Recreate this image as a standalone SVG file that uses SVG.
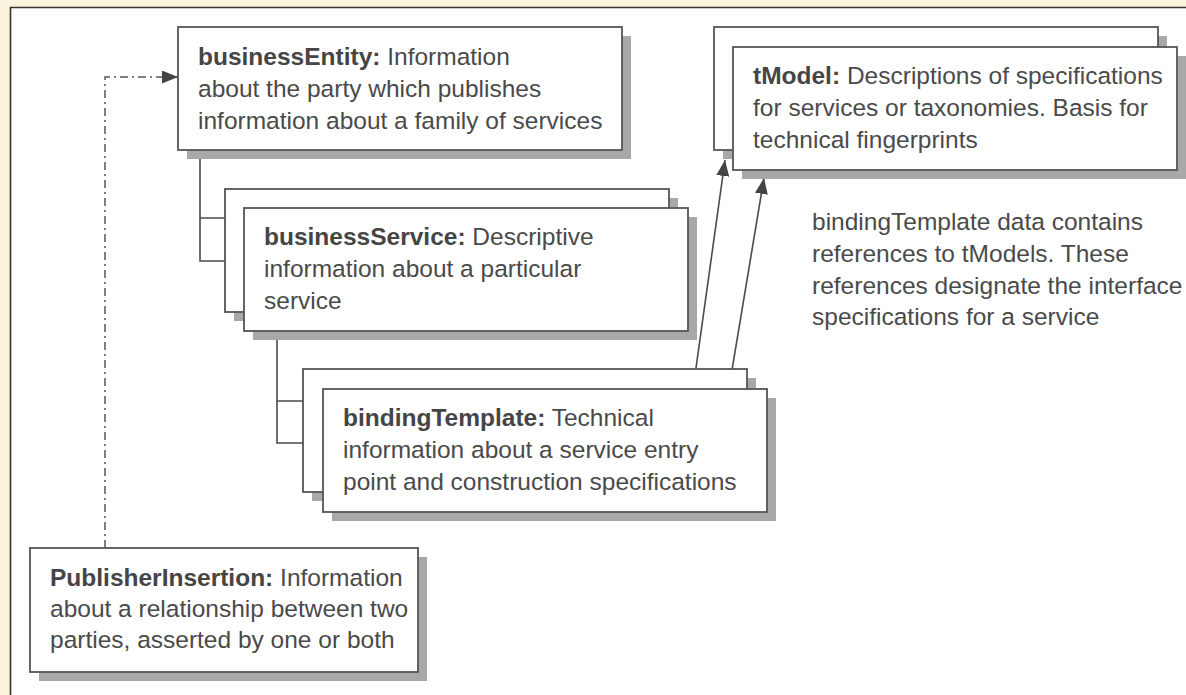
<svg xmlns="http://www.w3.org/2000/svg" width="1186" height="695" viewBox="0 0 1186 695">
<style>
.bg{fill:#fbf2dd}
.box{fill:#ffffff;stroke:#555;stroke-width:1.8}
.sh{fill:#a8a8aa}
.t{font-family:"Liberation Sans",Arial,sans-serif;font-size:24.5px;fill:#4a4a4a}
.b{font-weight:bold;fill:#454545}
.ln{fill:none;stroke:#4a4a4a;stroke-width:1.6}
.dd{fill:none;stroke:#555;stroke-width:1.5;stroke-dasharray:8 4 2 4}
</style>
<defs>
<marker id="ah" viewBox="0 0 16 13" refX="16" refY="6.5" markerWidth="16" markerHeight="13" markerUnits="userSpaceOnUse" orient="auto">
<path d="M0,0 L16,6.5 L0,13 Z" fill="#444"/>
</marker>
</defs>
<rect class="bg" x="0" y="0" width="1186" height="695"/>
<rect x="10.5" y="7.5" width="1180" height="700" fill="#fff"/>
<path d="M10.5,700 V7.5 H1190" fill="none" stroke="#333" stroke-width="1.6"/>

<g id="connectors">
<path class="ln" d="M200,150 V261 H244 M200,218 H225"/>
<path class="ln" d="M277,331 V443 H323 M277,401 H303"/>
<line class="ln" x1="696" y1="368" x2="725" y2="160" marker-end="url(#ah)"/>
<line class="ln" x1="729" y1="388" x2="764" y2="178" marker-end="url(#ah)"/>
<path class="dd" d="M105,548 V77 H168"/>
<line x1="162" y1="77" x2="178" y2="77" stroke="#444" stroke-width="1.5" marker-end="url(#ah)"/>
</g>

<g id="businessEntity">
<rect class="sh" x="187" y="36" width="444" height="123"/>
<rect class="box" x="178" y="27" width="444" height="123"/>
<text class="t" x="198" y="65"><tspan class="b">businessEntity:</tspan> Information</text>
<text class="t" x="198" y="97">about the party which publishes</text>
<text class="t" x="198" y="129">information about a family of services</text>
</g>

<g id="tModel">
<rect class="sh" x="723" y="36" width="444" height="123"/>
<rect class="box" x="714" y="27" width="444" height="123"/>
<rect class="sh" x="742" y="56" width="444" height="123"/>
<rect class="box" x="733" y="47" width="444" height="123"/>
<text class="t" x="753" y="84"><tspan class="b">tModel:</tspan> Descriptions of specifications</text>
<text class="t" x="753" y="116">for services or taxonomies. Basis for</text>
<text class="t" x="753" y="148">technical fingerprints</text>
</g>

<g id="businessService">
<rect class="sh" x="234" y="198" width="444" height="123"/>
<rect class="box" x="225" y="189" width="444" height="123"/>
<rect class="sh" x="253" y="217" width="444" height="123"/>
<rect class="box" x="244" y="208" width="444" height="123"/>
<text class="t" x="264" y="245"><tspan class="b">businessService:</tspan> Descriptive</text>
<text class="t" x="264" y="277">information about a particular</text>
<text class="t" x="264" y="309">service</text>
</g>

<g id="bindingTemplate">
<rect class="sh" x="312" y="378" width="444" height="123"/>
<rect class="box" x="303" y="369" width="444" height="123"/>
<rect class="sh" x="332" y="398" width="444" height="123"/>
<rect class="box" x="323" y="389" width="444" height="123"/>
<text class="t" x="343" y="426"><tspan class="b">bindingTemplate:</tspan> Technical</text>
<text class="t" x="343" y="458">information about a service entry</text>
<text class="t" x="343" y="490">point and construction specifications</text>
</g>

<g id="note">
<text class="t" x="812" y="230">bindingTemplate data contains</text>
<text class="t" x="812" y="262">references to tModels. These</text>
<text class="t" x="812" y="294">references designate the interface</text>
<text class="t" x="812" y="325">specifications for a service</text>
</g>

<g id="PublisherInsertion">
<rect class="sh" x="39" y="557" width="388" height="124"/>
<rect class="box" x="30" y="548" width="388" height="124"/>
<text class="t" x="50" y="586"><tspan class="b">PublisherInsertion:</tspan> Information</text>
<text class="t" x="50" y="617">about a relationship between two</text>
<text class="t" x="50" y="648">parties, asserted by one or both</text>
</g>
</svg>
